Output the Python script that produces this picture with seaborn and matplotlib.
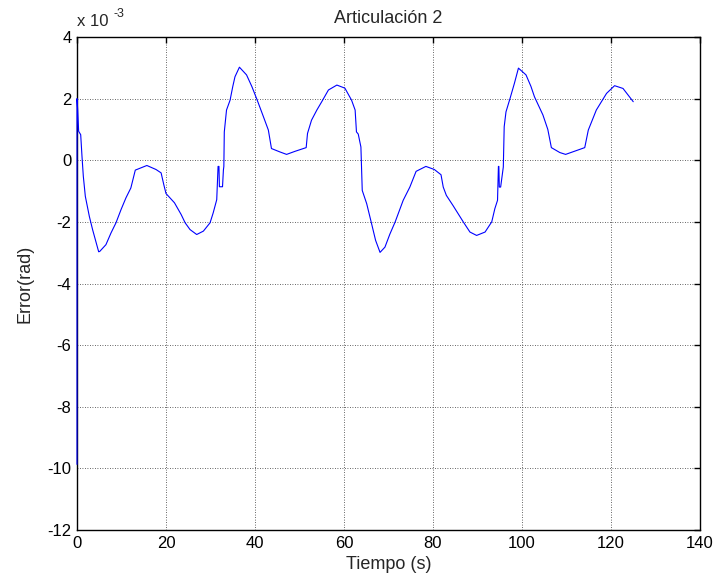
import numpy as np
import pandas as pd
import matplotlib
matplotlib.use("Agg")
import matplotlib.pyplot as plt
import seaborn as sns

# Data (error in units of 1e-3 rad)
tiempo = [0, 0, 0.15, 0.37, 0.83, 1.12, 1.42, 1.87, 2.77, 3.5, 4.87, 5.1, 6.5, 7.64,
          8.76, 9.9, 11.0, 12.1, 13.1, 15.7, 17.75, 18.9, 19.5, 20.0, 21.9, 23.4,
          24.3, 25.4, 26.9, 28.4, 29.9, 30.6, 31.4, 31.7, 31.9, 32.0, 32.1, 32.7,
          32.9, 33.0, 33.1, 33.6, 34.4, 35.0, 35.5, 36.5, 38.1, 39.3, 40.5, 41.9,
          43.0, 43.7, 45.6, 47.1, 49.0, 51.5, 51.8, 52.7, 53.9, 55.0, 56.5, 58.4,
          60.2, 61.7, 62.5, 62.8, 63.2, 63.8, 64.1, 65.1, 66.2, 67.1, 68.1, 69.2,
          70.3, 71.5, 73.3, 74.8, 76.2, 78.4, 80.3, 81.8, 82.3, 83.0, 84.5, 86.8,
          88.3, 89.8, 91.7, 93.2, 93.9, 94.5, 94.7, 94.8, 94.9, 95.2, 95.8, 96.0,
          96.4, 97.3, 98.3, 99.2, 100.9, 102.0, 102.8, 104.7, 105.8, 106.6, 108.5,
          109.8, 114.1, 114.9, 116.7, 119.0, 120.8, 122.7, 125.0]
error = [-9.87, 2.0, 1.65, 0.94, 0.83, 0.13, -0.52, -1.17, -1.82, -2.25, -2.97, -2.96,
         -2.74, -2.36, -2.03, -1.6, -1.22, -0.9, -0.32, -0.17, -0.3, -0.41, -0.79,
         -1.08, -1.38, -1.76, -2.03, -2.25, -2.41, -2.3, -2.03, -1.71, -1.28, -0.2,
         -0.2, -0.86, -0.86, -0.86, -0.32, -0.2, 0.92, 1.63, 1.95, 2.39, 2.71, 3.02,
         2.77, 2.39, 1.95, 1.41, 0.98, 0.38, 0.27, 0.19, 0.29, 0.41, 0.87, 1.3, 1.63,
         1.9, 2.28, 2.44, 2.34, 1.95, 1.63, 0.92, 0.85, 0.43, -0.98, -1.41, -2.06,
         -2.6, -2.99, -2.82, -2.4, -2.0, -1.3, -0.87, -0.36, -0.2, -0.3, -0.47, -0.87,
         -1.14, -1.47, -2.0, -2.33, -2.44, -2.33, -2.0, -1.57, -1.3, -0.2, -0.2,
         -0.87, -0.87, -0.22, 1.09, 1.57, 2.0, 2.5, 2.99, 2.77, 2.4, 2.06, 1.47, 1.0,
         0.41, 0.25, 0.19, 0.41, 0.98, 1.63, 2.17, 2.42, 2.33, 1.9]

x_ticks = [0, 20, 40, 60, 80, 100, 120, 140]
y_ticks = [4, 2, 0, -2, -4, -6, -8, -10, -12]
titulo = "Articulación 2"
etiqueta_x = "Tiempo (s)"
etiqueta_y = "Error(rad)"

sns.set_style("white")
plt.rcParams['font.family'] = ['Liberation Sans', 'DejaVu Sans']

df = pd.DataFrame({"t": tiempo, "e": error})

fig = plt.figure(figsize=(7.18, 5.83), dpi=100)
ax = fig.add_axes([77 / 718, 1 - 530 / 583, 623 / 718, 493 / 583])

sns.lineplot(data=df, x="t", y="e", ax=ax, color="#0000ff", lw=0.8,
             estimator=None, sort=False)
for ln in ax.get_lines():
    ln.set_zorder(3)
    ln.set_clip_on(False)

ax.set_xlim(0, 140)
ax.set_ylim(-12, 4)
ax.set_xticks(x_ticks)
ax.set_yticks(y_ticks)
ax.set_xticklabels([str(v) for v in x_ticks])
ax.set_yticklabels([str(v) for v in y_ticks])
ax.tick_params(direction="in", length=4, width=1, top=True, right=True,
               labelsize=12, colors="black", pad=4)
ax.grid(True, color="0.2", linestyle=(0, (1, 2)), linewidth=0.6)
ax.set_axisbelow(True)
for s in ax.spines.values():
    s.set_color("black")
    s.set_linewidth(1.0)
    s.set_zorder(2.5)

ax.set_title(titulo, fontsize=13, pad=10)
ax.set_xlabel(etiqueta_x, fontsize=13, labelpad=4)
ax.set_ylabel(etiqueta_y, fontsize=13, labelpad=10)

ax.annotate("x 10", xy=(0, 1), xycoords="axes fraction", xytext=(0, 8),
            textcoords="offset pixels", ha="left", va="bottom", fontsize=12)
ax.annotate("-3", xy=(0, 1), xycoords="axes fraction", xytext=(36, 17),
            textcoords="offset pixels", ha="left", va="bottom", fontsize=9)

fig.savefig("out.png", dpi=100)
